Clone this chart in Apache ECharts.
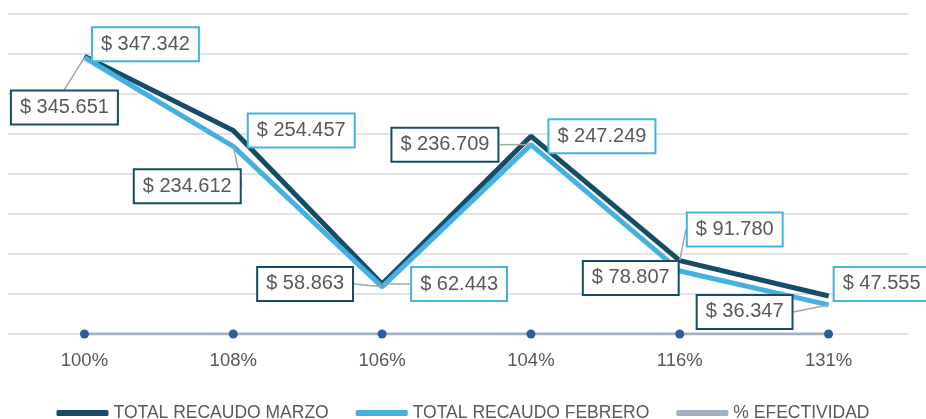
<!DOCTYPE html>
<html>
<head>
<meta charset="utf-8">
<script src="https://cdn.jsdelivr.net/npm/echarts@6/dist/echarts.min.js"></script>
<style>
  html, body { margin: 0; padding: 0; background: #fff; }
  #chart { width: 926px; height: 419px; }
</style>
</head>
<body>
<div id="chart"></div>
<script>
// datos
const categorias = ['100%', '108%', '106%', '104%', '116%', '131%'];
const recaudoMarzo = [347342, 254457, 62443, 247249, 91780, 47555];
const recaudoFebrero = [345651, 234612, 58863, 236709, 78807, 36347];
const efectividad = [1.00, 1.08, 1.06, 1.04, 1.16, 1.31];

// desplazamiento de las etiquetas respecto al punto (px)
const offMarzo = [[61, -12], [68, 0], [77, 0], [71, 0], [55, -31], [53, -12]];
const offFebrero = [[-20, 50], [-46, 40], [-77, -3], [-86, 0], [-49, 7], [-84, 7]];
const guiaMarzo = [false, false, true, false, true, false];
const guiaFebrero = [true, true, true, true, false, true];

const oscuro = '#174c69';
const claro = '#45b1e1';
const gris = '#a3b2c0';
const fuente = 'Liberation Sans';

const moneda = (v) => '$ ' + String(v).replace(/\B(?=(\d{3})+(?!\d))/g, '.');

const etiqueta = (borde) => ({
  show: true,
  position: 'inside',
  formatter: (p) => moneda(p.value),
  color: '#595959',
  fontFamily: fuente,
  fontSize: 20,
  lineHeight: 20,
  backgroundColor: '#fff',
  borderColor: borde,
  borderWidth: 2,
  padding: [6, 8]
});

const chart = echarts.init(document.getElementById('chart'));

chart.setOption({
  animation: false,
  textStyle: { fontFamily: fuente },
  grid: [
    { left: 8, right: 18, top: 14, bottom: 85 },   // solo lineas de fondo
    { left: 10, right: 23, top: 14, bottom: 85 }
  ],
  xAxis: [
    { gridIndex: 0, type: 'category', show: false, data: categorias },
    {
      gridIndex: 1,
      type: 'category',
      data: categorias,
      axisLine: { show: false },
      axisTick: { show: false },
      axisLabel: { color: '#595959', fontSize: 18.5, fontFamily: fuente, margin: 17 }
    }
  ],
  yAxis: [
    {
      gridIndex: 0, type: 'value', min: 0, max: 400000, interval: 50000,
      axisLabel: { show: false }, axisLine: { show: false }, axisTick: { show: false },
      splitLine: { lineStyle: { color: '#d9d9d9', width: 1.5 } }
    },
    {
      gridIndex: 1, type: 'value', min: 0, max: 400000, interval: 50000,
      show: false, splitLine: { show: false }
    }
  ],
  legend: {
    left: 'center',
    top: 399,
    icon: 'roundRect',
    itemWidth: 52,
    itemHeight: 6,
    itemGap: 27,
    textStyle: { color: '#595959', fontSize: 17.5, fontFamily: fuente },
    data: [
      { name: 'TOTAL RECAUDO MARZO', itemStyle: { color: oscuro } },
      { name: 'TOTAL RECAUDO FEBRERO', itemStyle: { color: claro } },
      { name: '% EFECTIVIDAD', itemStyle: { color: gris } }
    ]
  },
  series: [
    {
      name: 'TOTAL RECAUDO MARZO',
      type: 'line',
      xAxisIndex: 1, yAxisIndex: 1,
      symbol: 'circle', symbolSize: 1,
      itemStyle: { color: oscuro },
      lineStyle: { color: oscuro, width: 5 },
      data: recaudoMarzo.map((v, i) => ({ value: v, labelLine: { show: guiaMarzo[i] } })),
      label: etiqueta(claro),
      labelLine: { show: true, lineStyle: { color: '#a6a6a6', width: 1.5 } },
      labelLayout: (p) => ({ dx: offMarzo[p.dataIndex][0], dy: offMarzo[p.dataIndex][1] })
    },
    {
      name: 'TOTAL RECAUDO FEBRERO',
      type: 'line',
      xAxisIndex: 1, yAxisIndex: 1,
      symbol: 'circle', symbolSize: 1,
      itemStyle: { color: claro },
      lineStyle: { color: claro, width: 5 },
      data: recaudoFebrero.map((v, i) => ({ value: v, labelLine: { show: guiaFebrero[i] } })),
      label: etiqueta(oscuro),
      labelLine: { show: true, lineStyle: { color: '#a6a6a6', width: 1.5 } },
      labelLayout: (p) => ({ dx: offFebrero[p.dataIndex][0], dy: offFebrero[p.dataIndex][1] })
    },
    {
      name: '% EFECTIVIDAD',
      type: 'line',
      xAxisIndex: 1, yAxisIndex: 1,
      symbol: 'circle', symbolSize: 9,
      itemStyle: { color: '#2a5e9e' },
      lineStyle: { color: gris, width: 3 },
      data: efectividad
    }
  ]
});
</script>
</body>
</html>
